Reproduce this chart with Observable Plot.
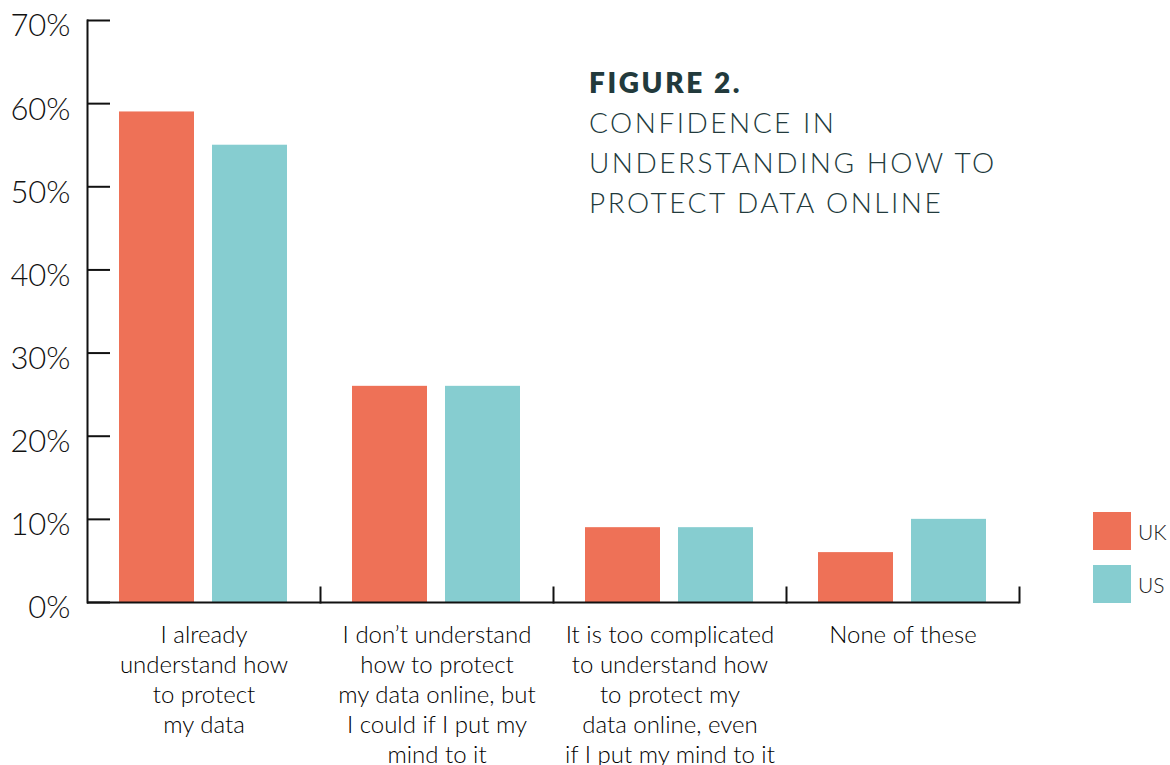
<!DOCTYPE html>
<html>
<head>
<meta charset="utf-8">
<script src="https://cdn.jsdelivr.net/npm/d3@7"></script>
<script src="https://cdn.jsdelivr.net/npm/@observablehq/plot@0.6"></script>
<style>
  html, body { margin: 0; padding: 0; background: #fff; }
  body { width: 1170px; height: 765px; position: relative; overflow: hidden; font-family: Lato, "Open Sans", sans-serif; }
  #chart { position: absolute; left: 0; top: 0; }
  #title { position: absolute; left: 589px; top: 62px; font-size: 28px; line-height: 40px; color: #223a3c; font-weight: 300; letter-spacing: 2.5px; }
  #title b { font-weight: 800; letter-spacing: 2.6px; }
  #legend { position: absolute; left: 1093px; top: 512px; }
  .item { display: flex; align-items: center; height: 38px; margin-bottom: 15px; }
  .sw { width: 38px; height: 38px; margin-right: 7px; }
  .lab { font-size: 21px; color: #222; font-weight: 300; }
</style>
</head>
<body>
<div id="chart"></div>
<div id="title"><b>FIGURE 2.</b><br>CONFIDENCE IN<br>UNDERSTANDING HOW TO<br>PROTECT DATA ONLINE</div>
<div id="legend"></div>
<script>
const categories = [
  "I already\nunderstand how\nto protect\nmy data",
  "I don\u2019t understand\nhow to protect\nmy data online, but\nI could if I put my\nmind to it",
  "It is too complicated\nto understand how\nto protect my\ndata online, even\nif I put my mind to it",
  "None of these"
];
const series = ["UK", "US"];
const ukValues = [59, 26, 9, 6];
const usValues = [55, 26, 9, 10];
const colors = ["#EE7157", "#86CDD0"];
const yTicks = [0, 10, 20, 30, 40, 50, 60, 70];

const data = categories.flatMap((c, i) => [
  {category: c, series: "UK", value: ukValues[i]},
  {category: c, series: "US", value: usValues[i]}
]);

const chart = Plot.plot({
  width: 1170,
  height: 765,
  marginLeft: 85,
  marginRight: 150,
  marginTop: 20,
  marginBottom: 163,
  style: {fontFamily: "Lato, 'Open Sans', sans-serif", color: "#111", background: "#fff"},
  fx: {domain: categories, padding: 0, label: null},
  x: {domain: series, paddingInner: 0.1935, paddingOuter: 0.3435, axis: null},
  y: {domain: [0, 70], label: null},
  color: {domain: series, range: colors},
  marks: [
    Plot.barY(data, {fx: "category", x: "series", y: "value", fill: "series"}),
    Plot.frame({anchor: "left", facetAnchor: "left", stroke: "#111", strokeWidth: 2}),
    Plot.frame({anchor: "right", insetTop: 567, stroke: "#111", strokeWidth: 2}),
    Plot.ruleY([0], {stroke: "#111", strokeWidth: 2}),
    Plot.axisY({ticks: yTicks, tickSize: -23, text: null, strokeWidth: 2, stroke: "#111", label: null}),
    Plot.axisY({ticks: yTicks, tickSize: 0, tickPadding: 17, dy: 6, tickFormat: d => d + "%", fontSize: 31, fontWeight: 300, fill: "#111", label: null}),
    Plot.axisFx({anchor: "bottom", tickSize: 0, tickPadding: 19, fontSize: 24, lineHeight: 1.25, fontWeight: 300, fill: "#000", label: null})
  ]
});
document.getElementById("chart").appendChild(chart);

const legend = document.getElementById("legend");
series.forEach((s, i) => {
  const item = document.createElement("div");
  item.className = "item";
  const sw = document.createElement("div");
  sw.className = "sw";
  sw.style.background = colors[i];
  const lab = document.createElement("span");
  lab.className = "lab";
  lab.textContent = s;
  item.appendChild(sw);
  item.appendChild(lab);
  legend.appendChild(item);
});
</script>
</body>
</html>
